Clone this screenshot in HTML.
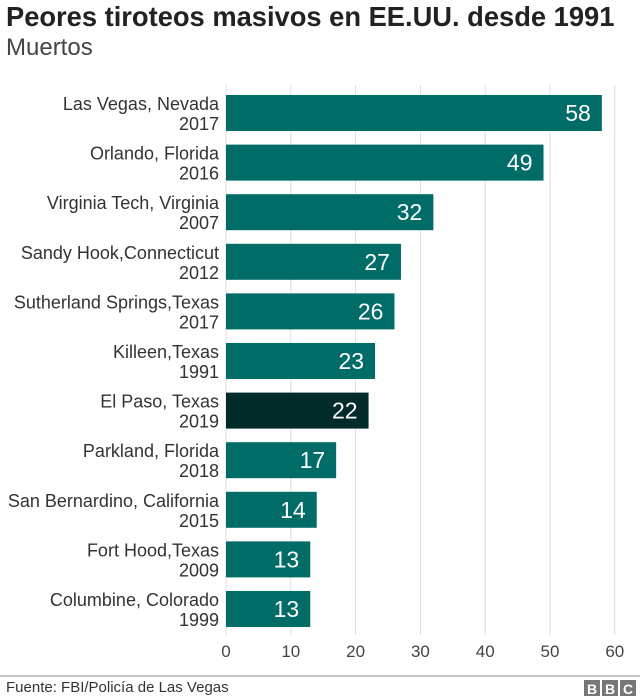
<!DOCTYPE html>
<html><head><meta charset="utf-8"><style>
body{margin:0;background:#fff;font-family:"Liberation Sans",Arial,sans-serif;}
#wrap{position:relative;width:640px;height:699px;overflow:hidden}
</style></head><body>
<div id="wrap">
<div style="position:absolute;left:6px;top:1px;font-size:27.3px;font-weight:bold;color:#222;white-space:nowrap">Peores tiroteos masivos en EE.UU. desde 1991</div>
<div style="position:absolute;left:6px;top:34px;font-size:24px;color:#444">Muertos</div>
<svg id="svg" width="640" height="699" style="position:absolute;left:0;top:0"></svg>
<div style="position:absolute;left:6px;top:679px;font-size:15px;color:#333">Fuente: FBI/Policía de Las Vegas</div>
</div>
<script>
const places=["Las Vegas, Nevada","Orlando, Florida","Virginia Tech, Virginia","Sandy Hook,Connecticut","Sutherland Springs,Texas","Killeen,Texas","El Paso, Texas","Parkland, Florida","San Bernardino, California","Fort Hood,Texas","Columbine, Colorado"];
const years=["2017","2016","2007","2012","2017","1991","2019","2018","2015","2009","1999"];
const deaths=[58,49,32,27,26,23,22,17,14,13,13];
const ticks=[0,10,20,30,40,50,60];
const highlight="El Paso, Texas";
const NS="http://www.w3.org/2000/svg";
const svg=document.getElementById('svg');
const x=v=>226+v*6.48;
const y=i=>95+i*49.6;
function mk(t,a){const e=document.createElementNS(NS,t);for(const k in a)e.setAttribute(k,a[k]);svg.appendChild(e);return e;}
ticks.forEach(t=>{
  const g=mk('line',{x1:x(t),x2:x(t),y1:85,y2:635,stroke:'#dddddd','stroke-width':1});
  
  
  const l=mk('text',{x:x(t),y:657,'text-anchor':'middle','font-size':17,fill:'#444'});
  l.textContent=t;
  
  
});
deaths.forEach((d,i)=>{
  const r=mk('rect',{x:x(0),y:y(i),width:x(d)-x(0),height:36,fill:places[i]===highlight?'#002b29':'#006c67'});
  
  
  const v=mk('text',{x:x(d)-11,y:y(i)+26,'text-anchor':'end','font-size':23,fill:'#fff'});
  v.textContent=d;
  
  
  const p=mk('text',{x:219,y:y(i)+15,'text-anchor':'end','font-size':18,fill:'#333'});
  p.textContent=places[i];
  
  
  const yr=mk('text',{x:219,y:y(i)+35,'text-anchor':'end','font-size':18,fill:'#333'});
  yr.textContent=years[i];
  
  
});
const ln=mk('line',{x1:0,x2:640,y1:676,y2:676,stroke:'#888','stroke-width':1});


["B","B","C"].forEach((c,i)=>{
  const bx=584+i*18;
  const b=mk('rect',{x:bx,y:680,width:16,height:16,fill:'#777'});
  
  
  const t=mk('text',{x:bx+8,y:694,'text-anchor':'middle','font-size':14,'font-weight':'bold',fill:'#fff'});
  t.textContent=c;
  
  
});
</script>
</body></html>
